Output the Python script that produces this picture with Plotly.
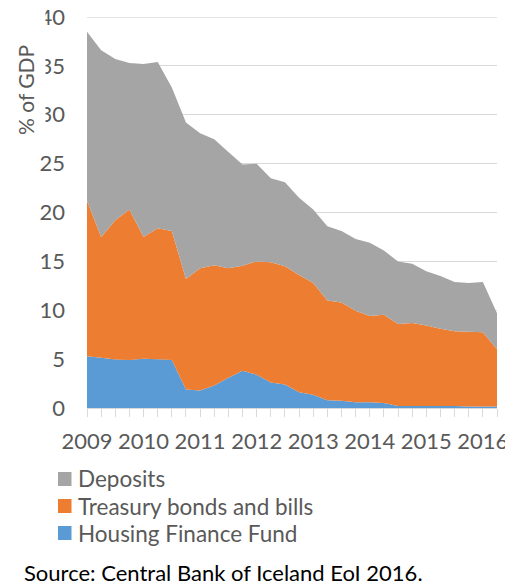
import plotly.graph_objects as go

# Quarterly observations, 2009 Q1 .. 2016 Q2 (% of GDP)
quarters = [f"{y} Q{q}" for y in range(2009, 2017) for q in range(1, 5)][:30]
housing_finance_fund = [5.3, 5.15, 4.95, 4.9, 5.05, 5.0, 4.9, 1.9, 1.8, 2.3,
                        3.1, 3.8, 3.4, 2.6, 2.4, 1.6, 1.35, 0.8, 0.75, 0.6,
                        0.58, 0.5, 0.2, 0.2, 0.2, 0.2, 0.2, 0.15, 0.15, 0.15]
treasury_bonds_bills = [15.9, 12.35, 14.25, 15.4, 12.45, 13.4, 13.2, 11.3, 12.5, 12.3,
                        11.2, 10.75, 11.6, 12.3, 12.1, 12.0, 11.45, 10.2, 10.05, 9.35,
                        8.82, 9.05, 8.4, 8.5, 8.25, 7.9, 7.65, 7.65, 7.6, 5.85]
deposits = [17.3, 19.1, 16.5, 15.0, 17.7, 17.0, 14.7, 16.0, 13.8, 12.9,
            11.9, 10.35, 10.0, 8.6, 8.6, 7.9, 7.5, 7.6, 7.3, 7.35,
            7.5, 6.55, 6.4, 6.05, 5.55, 5.4, 5.05, 5.0, 5.15, 3.7]
year_labels = ["2009", "2010", "2011", "2012", "2013", "2014", "2015", "2016"]
y_ticks = [0, 5, 10, 15, 20, 25, 30, 35, 40]

series_names = ["Deposits", "Treasury bonds and bills", "Housing Finance Fund"]
colors = {"Deposits": "#a5a5a5", "Treasury bonds and bills": "#ed7d31",
          "Housing Finance Fund": "#5b9bd5"}

x_idx = list(range(len(quarters)))
year_pos = [quarters.index(f"{y} Q1") for y in year_labels]

# the page body adds an 8px offset; size the figure so it fits the window
OFF = 8
W, H = 513 - OFF, 587 - OFF
L, R, T, B = 87 - OFF, 16, 17 - OFF, 587 - 408
pw, ph = W - L - R, H - T - B

def px_x(px):  # page pixel -> paper x
    return (px - OFF - L) / pw

def px_y(py):  # page pixel -> paper y
    return (H - B - (py - OFF)) / ph

fig = go.Figure()
for name, vals in [("Housing Finance Fund", housing_finance_fund),
                   ("Treasury bonds and bills", treasury_bonds_bills),
                   ("Deposits", deposits)]:
    fig.add_trace(go.Scatter(x=x_idx, y=vals, name=name, stackgroup="one",
                             mode="none", fillcolor=colors[name],
                             line=dict(width=0), hoverinfo="skip",
                             showlegend=False))

font_family = "Lato, 'Open Sans', sans-serif"
grey_text = "#595959"
grid_col = "#d9d9d9"
FS = 22

fig.update_layout(
    width=W, height=H,
    margin=dict(l=L, r=R, t=T, b=B, autoexpand=False),
    plot_bgcolor="white", paper_bgcolor="white",
    font=dict(family=font_family, color=grey_text, size=FS),
    showlegend=False,
    xaxis=dict(range=[0, len(quarters) - 1], tickmode="array",
               tickvals=year_pos, ticktext=year_labels,
               ticks="outside", ticklen=8, tickcolor=grid_col,
               showline=True, linecolor=grid_col, linewidth=1,
               showgrid=False, zeroline=False, automargin=False,
               tickfont=dict(size=FS, color=grey_text),
               ticklabelstandoff=6, ticklabeloverflow="allow",
               minor=dict(ticks="outside", ticklen=8, tickcolor=grid_col,
                          tickmode="linear", tick0=0, dtick=1, showgrid=False)),
    yaxis=dict(range=[0, 40], tickmode="array", tickvals=y_ticks,
               showgrid=True, gridcolor=grid_col, gridwidth=1,
               zeroline=False, showline=False, ticks="", automargin=False,
               tickfont=dict(size=FS, color=grey_text),
               ticklabelstandoff=21, ticklabeloverflow="allow"),
)

annotations = []
shapes = []
# top gridline (at the edge of the plot area)
shapes.append(dict(type="line", xref="paper", yref="y", x0=0, x1=1,
                   y0=y_ticks[-1], y1=y_ticks[-1], layer="below",
                   line=dict(color=grid_col, width=1.5)))
# white box of the axis title that partly hides the top tick labels
annotations.append(dict(text=" ", xref="paper", yref="paper",
                        x=px_x(OFF), y=px_y(OFF), xanchor="left", yanchor="top",
                        width=44 - OFF, height=145 - OFF, bgcolor="white", borderpad=0,
                        showarrow=False))
annotations.append(dict(text="% of GDP", textangle=-90, xref="paper", yref="paper",
                        x=px_x(25), y=px_y(90), showarrow=False,
                        xanchor="center", yanchor="middle",
                        font=dict(size=21, color=grey_text)))

# legend
leg_rows = [479, 506, 533]
for name, cy in zip(series_names, leg_rows):
    shapes.append(dict(type="rect", xref="paper", yref="paper", layer="above",
                       x0=px_x(58), x1=px_x(71.5), y0=px_y(cy + 7), y1=px_y(cy - 7),
                       fillcolor=colors[name], line=dict(width=0)))
    annotations.append(dict(text=name, xref="paper", yref="paper",
                            x=px_x(76), y=px_y(cy), showarrow=False,
                            xanchor="left", yanchor="middle",
                            font=dict(size=22.5, color=grey_text)))

annotations.append(dict(text="Source: Central Bank of Iceland EoI 2016.",
                        xref="paper", yref="paper", x=px_x(22), y=px_y(572),
                        showarrow=False, xanchor="left", yanchor="middle",
                        font=dict(size=FS, color="black")))

fig.update_layout(shapes=shapes, annotations=annotations)
fig.write_html("out.html")
